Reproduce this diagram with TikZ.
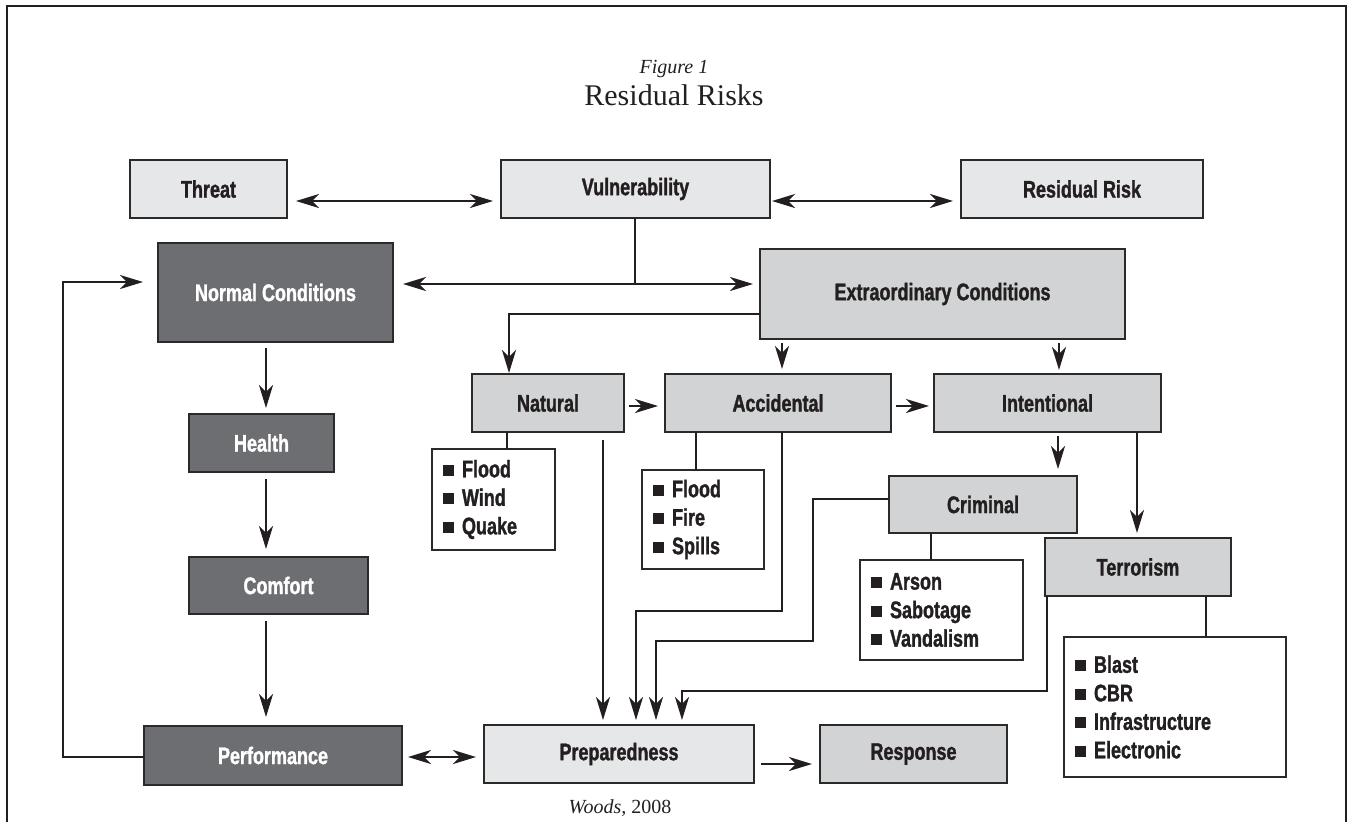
\documentclass[tikz,border=0pt]{standalone}
\usepackage{fontspec}
\usetikzlibrary{arrows.meta,calc}
\newfontfamily\condfont[FakeStretch=0.75,FakeBold=1.3]{Liberation Sans}
\newfontfamily\titlefont{Liberation Serif}
\definecolor{bord}{HTML}{2B2A2B}
\definecolor{ink}{HTML}{231F20}
\definecolor{lightfill}{HTML}{E6E7E8}
\definecolor{midfill}{HTML}{D1D3D4}
\definecolor{darkfill}{HTML}{6D6E71}
\newcommand\blt{\raisebox{1.5pt}{\rule{11pt}{11pt}}\hspace{8pt}}
\newcommand\mkbox[7]{\node[#6, minimum width={(#4)-(#2)}, minimum height={(#5)-(#3)}] (#1) at ({((#2)+(#4))/2},{((#3)+(#5))/2}) {#7};}
\tikzset{
  box/.style={draw=bord, line width=1.5pt, inner sep=0pt, outer sep=0pt,
    font=\condfont\bfseries\fontsize{24}{28}\selectfont, text=ink},
  lightbox/.style={box, fill=lightfill},
  midbox/.style={box, fill=midfill},
  darkbox/.style={box, fill=darkfill, text=white},
  listbox/.style={box, fill=white, align=left, inner xsep=11pt,
    font=\condfont\bfseries\fontsize{24}{28.5}\selectfont},
  conn/.style={draw=ink, line width=2.7pt},
  arr/.style={conn, -{Stealth[length=23pt,width=14pt,inset=7pt]}},
  darr/.style={conn, {Stealth[length=23pt,width=14pt,inset=7pt]}-{Stealth[length=23pt,width=14pt,inset=7pt]}},
}
\begin{document}
\begin{tikzpicture}[x=1pt,y=-1pt]
\useasboundingbox (0,0) rectangle (1349,822);
\fill[white] (0,0) rectangle (1349,822);
% frame
\draw[ink, line width=2.8pt] (7,822) -- (7,6) -- (1346,6) -- (1346,822);
% titles
\node[anchor=base, font=\titlefont\fontsize{20}{24}\selectfont\itshape, text=ink] (fig) at (674,73) {Figure 1};
\node[anchor=base, font=\titlefont\fontsize{30}{34}\selectfont, text=ink] (title) at (674,105) {Residual Risks};
\node[anchor=base, font=\titlefont\fontsize{20}{23}\selectfont, text=ink] (credit) at (620,813) {\textit{Woods,} 2008};
% boxes
\mkbox{threat}{130}{160}{287}{218}{lightbox}{Threat}
\mkbox{vuln}{501}{160}{770}{218}{lightbox}{Vulnerability}
\mkbox{resid}{961}{160}{1203}{218}{lightbox}{Residual Risk}
\mkbox{normal}{158}{243}{393}{342}{darkbox}{Normal Conditions}
\mkbox{extra}{760}{249}{1125}{339}{midbox}{Extraordinary Conditions}
\mkbox{natural}{472}{374}{624}{432}{midbox}{Natural}
\mkbox{accid}{665}{374}{891}{432}{midbox}{Accidental}
\mkbox{intent}{934}{374}{1161}{432}{midbox}{Intentional}
\mkbox{health}{189}{414}{334}{472}{darkbox}{Health}
\mkbox{comfort}{189}{557}{368}{614}{darkbox}{Comfort}
\mkbox{perf}{144}{726}{402}{785}{darkbox}{Performance}
\mkbox{prep}{484}{725}{754}{783}{lightbox}{Preparedness}
\mkbox{resp}{820}{725}{1007}{783}{midbox}{Response}
\mkbox{crim}{889}{476}{1077}{533}{midbox}{Criminal}
\mkbox{terr}{1045}{538}{1231}{596}{midbox}{Terrorism}
\mkbox{lnat}{432}{449}{555}{550}{listbox, text width=101pt}{\blt Flood\\\blt Wind\\\blt Quake}
\mkbox{lacc}{642}{470}{764}{569}{listbox, text width=100pt}{\blt Flood\\\blt Fire\\\blt Spills}
\mkbox{lcrim}{860}{560}{1023}{660}{listbox, text width=141pt}{\blt Arson\\\blt Sabotage\\\blt Vandalism}
\mkbox{lterr}{1064}{637}{1286}{777}{listbox, text width=200pt}{\blt Blast\\\blt CBR\\\blt Infrastructure\\\blt Electronic}
% helper coordinates
\coordinate (j) at (635,284);
\coordinate (nx) at (509,314);
\coordinate (ax) at (782,0);
\coordinate (ix) at (1059,0);
\coordinate (lx) at (266,0);
\coordinate (a1) at (782,611);
\coordinate (a2) at (636,611);
\coordinate (c1) at (813,499);
\coordinate (c2) at (813,641);
\coordinate (c3) at (656,641);
\coordinate (t1) at (1047,691);
\coordinate (t2) at (682,691);
\coordinate (f1) at (63,757);
\coordinate (f2) at (63,282);
% top row
\draw[darr, shorten <=9pt, shorten >=8pt] ([yshift=-12pt]threat.east) -- ([yshift=-12pt]vuln.west);
\draw[darr, shorten <=2pt, shorten >=8pt] ([yshift=-12pt]vuln.east) -- ([yshift=-12pt]resid.west);
\draw[conn] (vuln.south -| j) -- (j);
\draw[darr, shorten <=10pt, shorten >=7pt] (normal.east |- j) -- (extra.west |- j);
% extraordinary branches
\draw[arr, shorten >=1pt] (extra.west |- nx) -- (nx) -- (natural.north -| nx);
\draw[arr, shorten <=4pt, shorten >=5pt] (extra.south -| ax) -- (accid.north -| ax);
\draw[arr, shorten <=4pt, shorten >=4pt] (extra.south -| ix) -- (intent.north -| ix);
\draw[arr, shorten <=5pt, shorten >=7pt] ([yshift=-3pt]natural.east) -- ([yshift=-3pt]accid.west |- natural.east);
\draw[arr, shorten <=5pt, shorten >=5pt] ([yshift=-3pt]accid.east) -- ([yshift=-3pt]intent.west |- accid.east);
\draw[arr, shorten <=4pt, shorten >=7pt] (intent.south -| 1058,0) -- (crim.north -| 1058,0);
\draw[arr, shorten >=5pt] (intent.south -| 1137,0) -- (terr.north -| 1137,0);
% list connectors
\draw[conn] (natural.south -| 507,0) -- (lnat.north -| 507,0);
\draw[conn] (accid.south -| 696,0) -- (lacc.north -| 696,0);
\draw[conn] (crim.south -| 931,0) -- (lcrim.north -| 931,0);
\draw[conn] (terr.south -| 1206,0) -- (lterr.north -| 1206,0);
% into preparedness
\draw[arr, shorten <=8pt, shorten >=5pt] (natural.south -| 603,0) -- (prep.north -| 603,0);
\draw[arr, shorten >=5pt] (accid.south -| a1) -- (a1) -- (a2) -- (prep.north -| a2);
\draw[arr, shorten >=5pt] (crim.west |- c1) -- (c1) -- (c2) -- (c3) -- (prep.north -| c3);
\draw[arr, shorten >=5pt] (terr.south -| t1) -- (t1) -- (t2) -- (prep.north -| t2);
% bottom row
\draw[darr, shorten <=6pt, shorten >=8pt] ([yshift=-1.5pt]perf.east) -- ([yshift=-1.5pt]perf.east -| prep.west);
\draw[arr, shorten <=7pt, shorten >=8pt] ([yshift=-10pt]prep.east) -- ([yshift=-10pt]prep.east -| resp.west);
% normal chain
\draw[arr, shorten <=6pt, shorten >=6pt] (normal.south -| lx) -- (health.north -| lx);
\draw[arr, shorten <=7pt, shorten >=8pt] (health.south -| lx) -- (comfort.north -| lx);
\draw[arr, shorten <=7pt, shorten >=9pt] (comfort.south -| lx) -- (perf.north -| lx);
% feedback
\draw[arr, shorten >=15pt] (perf.west |- f1) -- (f1) -- (f2) -- (normal.west |- f2);
\end{tikzpicture}
\end{document}
